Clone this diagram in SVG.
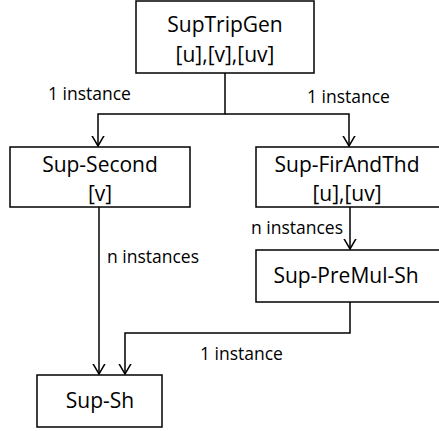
<svg xmlns="http://www.w3.org/2000/svg" width="439" height="431" viewBox="0 0 439 431">
<defs>
<marker id="arr" markerWidth="20" markerHeight="20" refX="10" refY="10" orient="auto" markerUnits="userSpaceOnUse">
<path d="M-2,3 L10,10 L-2,17" fill="none" stroke="#000" stroke-width="1.5"/>
</marker>
</defs>
<style>
.box{fill:#fff;stroke:#000;stroke-width:1.5}
.nt{font-family:"Open Sans","Noto Sans",sans-serif;font-size:21px;fill:#000;text-anchor:middle}
.el{font-family:"Open Sans","Noto Sans",sans-serif;font-size:17.5px;fill:#000}
.c{fill:none;stroke:#000;stroke-width:1.5}
</style>
<rect width="439" height="431" fill="#fff"/>
<g id="connectors">
<path class="c" d="M225,73 V114 H98 V146" marker-end="url(#arr)"/>
<path class="c" d="M225,114 H349 V146" marker-end="url(#arr)"/>
<path class="c" d="M350,207 V249" marker-end="url(#arr)"/>
<path class="c" d="M99,207 V374" marker-end="url(#arr)"/>
<path class="c" d="M350,302 V333 H125 V374" marker-end="url(#arr)"/>
<text class="el" x="48" y="100">1 instance</text>
<text class="el" x="307" y="103">1 instance</text>
<text class="el" x="251" y="234">n instances</text>
<text class="el" x="107" y="263">n instances</text>
<text class="el" x="200" y="360">1 instance</text>
</g>
<g id="SupTripGen">
<rect class="box" x="136" y="1" width="178" height="72"/>
<text class="nt" x="225" y="32">SupTripGen</text>
<text class="nt" x="225" y="62">[u],[v],[uv]</text>
</g>
<g id="Sup-Second">
<rect class="box" x="10" y="147" width="180" height="60"/>
<text class="nt" x="100" y="172">Sup-Second</text>
<text class="nt" x="100" y="201">[v]</text>
</g>
<g id="Sup-FirAndThd">
<rect class="box" x="256" y="147" width="185" height="60"/>
<text class="nt" x="347" y="172">Sup-FirAndThd</text>
<text class="nt" x="347" y="201">[u],[uv]</text>
</g>
<g id="Sup-PreMul-Sh">
<rect class="box" x="256" y="250" width="185" height="52"/>
<text class="nt" x="346" y="283">Sup-PreMul-Sh</text>
</g>
<g id="Sup-Sh">
<rect class="box" x="37" y="375" width="125" height="52"/>
<text class="nt" x="100" y="408">Sup-Sh</text>
</g>
</svg>
